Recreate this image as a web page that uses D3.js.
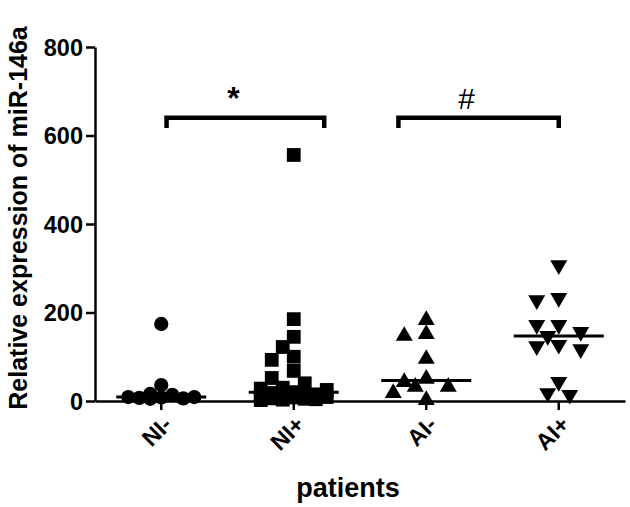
<!DOCTYPE html>
<html><head><meta charset="utf-8">
<script src="https://cdn.jsdelivr.net/npm/d3@7"></script>
<style>body{margin:0;background:#fff}text{font-family:"Liberation Sans",Arial,sans-serif}</style>
</head><body>
<svg id="c" width="630" height="507"></svg>
<script>
// ---- data ----
const categories = ["NI-", "NI+", "AI-", "AI+"];
const valuesNIminus = [174, 36, 16, 14, 9, 9, 8, 7, 6, 5];
const valuesNIplus = [556, 185, 145, 122, 100, 93, 68, 52, 40, 30, 28, 25, 20, 18, 15, 14, 12, 10, 9, 8, 6, 5, 4, 3, 2];
const valuesAIminus = [183, 151, 147, 95, 50, 43, 32, 32, 18, 2];
const valuesAIplus = [307, 233, 228, 172, 172, 156, 147, 127, 124, 117, 43, 18, 14];
const yTicks = [0, 200, 400, 600, 800];
const comparisons = [
  {from: "NI-", to: "NI+", label: "*", value: 640},
  {from: "AI-", to: "AI+", label: "#", value: 640}
];

const groups = [valuesNIminus, valuesNIplus, valuesAIminus, valuesAIplus];
const shapes = ["circle", "square", "up", "down"];

const svg = d3.select("#c");
const x = d3.scaleBand().domain(categories).range([95, 625]);
const y = d3.scaleLinear().domain([0, 800]).range([401, 47]);
const cx = c => x(c) + x.bandwidth() / 2;
const FONT = "Liberation Sans, Arial, sans-serif";

// y axis
const ya = svg.append("g").attr("transform", "translate(95,0)")
  .call(d3.axisLeft(y).tickValues(yTicks).tickSize(9).tickSizeOuter(0).tickPadding(3));
ya.select(".domain").attr("stroke", "#000").attr("stroke-width", 2.5);
ya.selectAll(".tick line").attr("stroke", "#000").attr("stroke-width", 2.5);
ya.selectAll(".tick text").attr("font-size", 23.5).attr("font-weight", "bold")
  .attr("fill", "#000").style("font-family", FONT).attr("dy", "0.35em");

// x axis
const xa = svg.append("g").attr("transform", "translate(0,401)")
  .call(d3.axisBottom(x).tickSize(9).tickSizeOuter(0).tickPadding(2));
xa.select(".domain").attr("stroke", "#000").attr("stroke-width", 2.5);
xa.selectAll(".tick line").attr("stroke", "#000").attr("stroke-width", 2.5);
xa.selectAll(".tick text").attr("font-size", 23).attr("font-weight", "bold")
  .attr("fill", "#000").style("font-family", FONT)
  .attr("text-anchor", "end").attr("dy", null).attr("y", 0)
  .attr("transform", "translate(12,25) rotate(-45)");

// beeswarm layout (limited width, overlap allowed when crowded)
function swarm(vals) {
  const sorted = vals.slice().sort((a, b) => b - a);
  const placed = [];
  const step = 11, minD = 14, maxK = 3;
  const cand = [0];
  for (let k = 1; k <= maxK; k++) cand.push(-k, k);
  sorted.forEach(v => {
    const py = y(v);
    let best = null, bestScore = -1;
    for (const k of cand) {
      const px = k * step;
      const d = placed.length ? d3.min(placed, p => Math.hypot(p.dx - px, p.py - py)) : Infinity;
      if (d >= minD) { best = px; break; }
      if (d > bestScore + 0.5) { bestScore = d; best = px; }
    }
    placed.push({v, py, dx: best});
  });
  return placed;
}

const sym = {
  circle: d3.symbol().type(d3.symbolCircle).size(160),
  square: d3.symbol().type(d3.symbolSquare).size(190),
  up: d3.symbol().type(d3.symbolTriangle).size(125),
  down: d3.symbol().type(d3.symbolTriangle).size(125)
};

categories.forEach((c, gi) => {
  const pts = swarm(groups[gi]);
  const g = svg.append("g");
  g.selectAll("path").data(pts).join("path")
    .attr("d", sym[shapes[gi]]())
    .attr("fill", "#000")
    .attr("transform", d => `translate(${cx(c) + d.dx},${d.py})` + (shapes[gi] === "down" ? " rotate(180)" : ""));
  const med = d3.median(groups[gi]);
  svg.append("line").attr("x1", cx(c) - 45).attr("x2", cx(c) + 45)
    .attr("y1", y(med)).attr("y2", y(med)).attr("stroke", "#000").attr("stroke-width", 3);
});

// brackets
comparisons.forEach(cmp => {
  const bw = x.bandwidth();
  let x1, x2;
  if (cmp.from === "NI-") { x1 = cx(cmp.from) + 0.04 * bw; x2 = cx(cmp.to) + 0.23 * bw; }
  else { x1 = cx(cmp.from) - 0.21 * bw; x2 = cx(cmp.to); }
  const yb = y(cmp.value), yt = y(cmp.value - 23);
  svg.append("path").attr("d", `M${x1},${yt}V${yb}H${x2}V${yt}`)
    .attr("fill", "none").attr("stroke", "#000").attr("stroke-width", 4.5);
  const mid = (x1 + x2) / 2 - 12;
  svg.append("text").attr("x", mid).attr("y", yb - 9)
    .attr("text-anchor", "middle").attr("font-size", cmp.label === "*" ? 32 : 30)
    .attr("font-weight", cmp.label === "*" ? "bold" : "normal").text(cmp.label);
});

// axis titles
svg.append("text").attr("transform", "translate(27,218) rotate(-90)")
  .attr("text-anchor", "middle").attr("font-size", 25).attr("font-weight", "bold")
  .text("Relative expression of miR-146a");
svg.append("text").attr("x", 348).attr("y", 497).attr("text-anchor", "middle")
  .attr("font-size", 27).attr("font-weight", "bold").text("patients");
</script>
</body></html>
